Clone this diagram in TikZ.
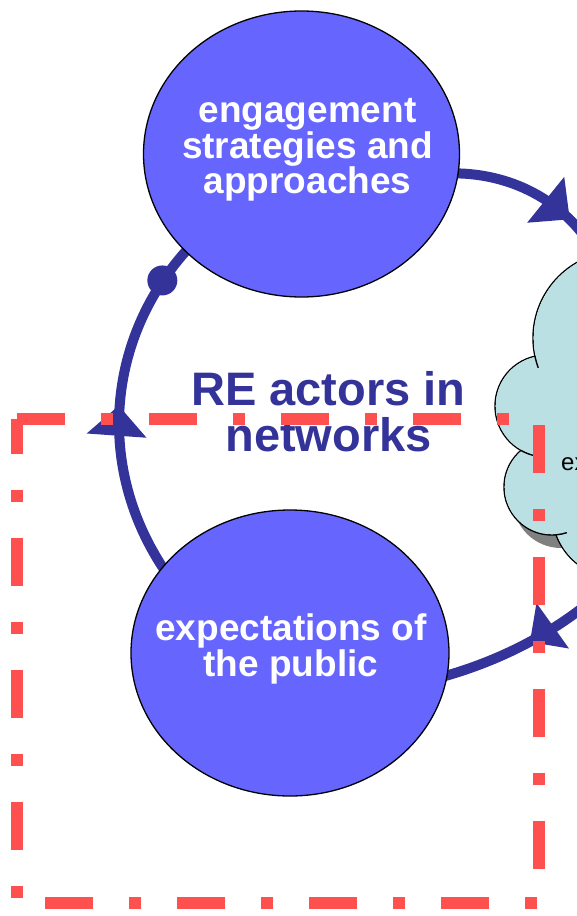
\documentclass[tikz,border=0pt]{standalone}
\usepackage{fontspec}
\setmainfont{Liberation Sans}
\usetikzlibrary{arrows.meta,decorations.markings,shapes.geometric}

\definecolor{ovalfill}{RGB}{102,102,255}
\definecolor{linkblue}{RGB}{51,51,153}
\definecolor{cloudfill}{RGB}{187,224,228}
\definecolor{cloudshade}{RGB}{128,128,128}
\definecolor{framered}{RGB}{255,80,80}

\pgfdeclarelayer{back}
\pgfsetlayers{back,main}

\tikzset{
  oval/.style={ellipse, draw=black, line width=1.3pt, fill=ovalfill, inner sep=0pt},
  ovaltext/.style={text=white, font=\bfseries\fontsize{37}{35.5}\selectfont, align=center, inner sep=0pt},
  titletext/.style={text=linkblue, font=\bfseries\fontsize{47}{46}\selectfont, align=center, inner sep=0pt},
  cloudtext/.style={text=black, font=\fontsize{24}{28}\selectfont, inner sep=0pt},
  link/.style={color=linkblue, line width=10pt},
  cloudline/.style={draw=black, line width=1.4pt},
  framedash/.style={draw=framered, line width=12pt, dash pattern=on 48pt off 36pt on 12pt off 36pt},
  % arrow head part way along a link: position, extra turn, length, width
  midtip/.style n args={4}{decoration={markings,
      mark=at position #1 with {\pgftransformrotate{#2}\arrow{Triangle[length=#3,width=#4,line width=0pt]}}},
    postaction=decorate},
}

\begin{document}
\begin{tikzpicture}[x=1pt,y=-1pt]
  \useasboundingbox (0,0) rectangle (577,916);

  % the two ovals
  \node[oval, minimum width=316pt, minimum height=286pt] (eng) at (301.5,154) {};
  \node[oval, minimum width=318pt, minimum height=286pt] (pub) at (290,653) {};

  % where the cloud meets its link to the public
  \coordinate (cloudLow) at (621,574);

  \begin{pgfonlayer}{back}
    % link from the public back up to the strategies (arrow mid-way, dot near the top)
    \draw[link, shorten <=-6pt, shorten >=-6pt,
          decoration={markings,
            mark=at position 0.497 with {\arrow{Triangle[length=30pt,width=60pt,line width=0pt]}},
            mark=at position 0.889 with {\fill[linkblue] (0,0) circle[radius=15pt];}},
          postaction=decorate]
      (pub.146.4) arc[start angle=145.7, end angle=222.9, radius=254];

    % link from the strategies into the cloud
    \draw[link, shorten <=-6pt, midtip={0.726}{6}{31pt}{59pt}]
      (eng.-7.5) arc[start angle=-90, end angle=-28, radius=157];

    % link from the cloud down to the public
    \draw[link, shorten >=-6pt, midtip={0.565}{7}{28pt}{56pt}]
      (cloudLow) arc[start angle=45, end angle=74.2, radius=396];

    % cloud: shadow, outline of the bumps, filling, and the small inner tails
    \fill[cloudshade] (561,500) circle[radius=48];
    \foreach \cx/\cy/\r in {620/338/87, 546/406/51, 552/487/48, 618/512/66}
      \draw[cloudline] (\cx,\cy) circle[radius=\r];
    \foreach \cx/\cy/\r in {620/338/87, 546/406/51, 552/487/48, 618/512/66}
      \fill[cloudfill] (\cx,\cy) circle[radius=\r-0.7];
    \fill[cloudfill] (640,420) circle[radius=100];
    \draw[cloudline] (620,338) ++(167.9:87) arc[start angle=167.9, end angle=160, radius=87];
    \draw[cloudline] (546,406) ++(119.5:51) arc[start angle=119.5, end angle=104, radius=51];
    \draw[cloudline] (552,487) ++(85:48) arc[start angle=85, end angle=72, radius=48];
  \end{pgfonlayer}

  \node[cloudtext, anchor=base west] (cloudtxt) at (561,470.5) {ex};

  % labels
  \node[ovaltext] (engtxt) at (307.5,150) {engagement\\strategies and\\approaches};
  \node[ovaltext] (pubtxt) at (291,649) {expectations of\\the public};
  \node[titletext] (title) at (328.5,412) {RE actors in\\networks};

  % dash-dotted frame, one side at a time
  \draw[framedash, dash phase=0pt]   (17,419) -- (539,419);
  \draw[framedash, dash phase=126pt] (539,419) -- (539,903);
  \draw[framedash, dash phase=104pt] (17,903) -- (539,903);
  \draw[framedash, dash phase=13pt]  (17,419) -- (17,903);
\end{tikzpicture}
\end{document}
